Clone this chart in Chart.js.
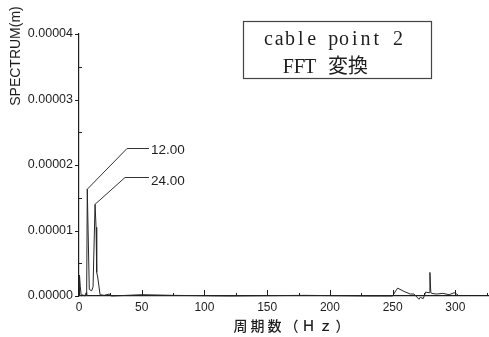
<!DOCTYPE html>
<html>
<head>
<meta charset="utf-8">
<script src="https://cdn.jsdelivr.net/npm/chart.js@4"></script>
<style>
  html, body { margin: 0; padding: 0; background: #fff; }
  #wrap { width: 489px; height: 337px; position: relative; }
</style>
</head>
<body>
<div id="wrap"><canvas id="c" width="489" height="337"></canvas></div>
<script>
// Frequency axis (Hz) and FFT amplitude (m) of cable point 2
const freqHz = [
  0, 0.4, 1.0, 1.8, 3.0, 4.5, 5.8, 6.1, 6.6, 8.2, 10.1, 11.2, 12.8, 13.6, 14.1,
  14.9, 16.8, 20, 24, 26, 50, 75, 120, 180, 230, 250, 251.8, 254, 259, 264,
  267, 268.5, 271, 272, 274.4, 276.3, 279, 279.7, 280.4, 281, 285, 290, 295,
  299, 302
];
const spectrum = [
  0.05e-5, 0.32e-5, 0.15e-5, 0.0, 0.02e-5, 0.0, 0.05e-5, 0.0, 1.63e-5, 0.10e-5,
  0.08e-5, 0.14e-5, 1.40e-5, 1.05e-5, 0.36e-5, 0.29e-5, 0.02e-5, 0.01e-5,
  0.03e-5, 0.0, 0.02e-5, 0.01e-5, 0.0, 0.01e-5, 0.0, 0.0, 0.06e-5, 0.12e-5,
  0.07e-5, 0.03e-5, 0.03e-5, 0.0, -0.05e-5, -0.02e-5, -0.04e-5, 0.06e-5,
  0.05e-5, 0.36e-5, 0.06e-5, 0.04e-5, 0.03e-5, 0.04e-5, 0.02e-5, 0.05e-5, 0.02e-5
];

// Axis ranges and tick steps
const xRange = [0, 326];
const yRange = [0, 0.00004];
const xMajorStep = 50, xMinorStep = 25;
const yMajorStep = 0.00001, yMinorStep = 0.000005;

// Peak callouts: peak position and label text
const peakFreq = [6.6, 12.8];
const peakValue = [1.63e-5, 1.40e-5];
const peakLabels = ['12.00', '24.00'];

const titleLines = ['cable point 2', 'FFT 変換'];
const yTitle = 'SPECTRUM(m)';
const xTitle = '周期数（Ｈｚ）';

const INK = '#1e1e1e';

// Minor/major tick marks drawn on the axes
const tickMarks = {
  id: 'tickMarks',
  afterDraw(chart) {
    const { ctx, scales: { x, y }, chartArea: a } = chart;
    ctx.save();
    ctx.strokeStyle = INK;
    ctx.lineWidth = 1;
    ctx.beginPath();
    for (let v = xRange[0]; v <= xRange[1] + 1e-9; v += xMinorStep) {
      const px = Math.round(x.getPixelForValue(v)) + 0.5;
      const major = Math.abs(v / xMajorStep - Math.round(v / xMajorStep)) < 1e-6;
      ctx.moveTo(px, a.bottom);
      ctx.lineTo(px, a.bottom - (major ? 6 : 3));
    }
    for (let i = 0; i <= Math.round((yRange[1] - yRange[0]) / yMinorStep); i++) {
      const v = yRange[0] + i * yMinorStep;
      const py = Math.round(y.getPixelForValue(v)) + 0.5;
      if (i % 2 === 0) {
        ctx.moveTo(a.left, py);
        ctx.lineTo(a.left - 4, py);
      } else {
        ctx.moveTo(a.left, py);
        ctx.lineTo(a.left + 3, py);
      }
    }
    ctx.stroke();
    ctx.restore();
  }
};

// Leader lines from the two peaks to their labels
const peakCallouts = {
  id: 'peakCallouts',
  afterDatasetsDraw(chart, args, opts) {
    const { ctx, scales: { x, y } } = chart;
    ctx.save();
    ctx.strokeStyle = '#333';
    ctx.lineWidth = 1;
    ctx.fillStyle = INK;
    ctx.font = '13.5px "Liberation Sans", Arial, sans-serif';
    ctx.textBaseline = 'middle';
    peakFreq.forEach((f, i) => {
      const px = x.getPixelForValue(f);
      const py = y.getPixelForValue(peakValue[i]);
      const g = opts.geom[i];
      ctx.beginPath();
      ctx.moveTo(px, py);
      ctx.lineTo(g.elbowX, g.lineY);
      ctx.lineTo(g.endX, g.lineY);
      ctx.stroke();
      ctx.fillText(peakLabels[i], g.endX + 2, g.textY);
    });
    ctx.restore();
  }
};

// Writes text on a fixed character pitch (half-width cells)
function drawPitched(ctx, text, x0, baseline, pitch) {
  ctx.textAlign = 'center';
  [...text].forEach((ch, i) => {
    if (ch !== ' ') ctx.fillText(ch, x0 + pitch * (i + 0.5), baseline);
  });
  ctx.textAlign = 'left';
}

// Title box, axis titles
const decorations = {
  id: 'decorations',
  afterDraw(chart) {
    const { ctx } = chart;
    ctx.save();
    // boxed title
    ctx.strokeStyle = '#444';
    ctx.lineWidth = 1.2;
    ctx.strokeRect(243.5, 21.5, 188, 57);
    ctx.fillStyle = INK;
    ctx.textBaseline = 'alphabetic';
    ctx.font = '20px "Liberation Serif", "DejaVu Serif", serif';
    drawPitched(ctx, titleLines[0], 263, 45, 10.8);
    const [lat, cjk] = titleLines[1].split(' ');
    ctx.save();
    ctx.translate(0, 73);
    ctx.scale(1, 1.1);
    drawPitched(ctx, lat, 283, 0, 10.8);
    ctx.restore();
    ctx.font = '20px "Noto Sans CJK JP", sans-serif';
    ctx.fillText(cjk, 328, 73);

    // y-axis title, rotated
    ctx.save();
    ctx.translate(16, 56);
    ctx.rotate(-Math.PI / 2);
    ctx.font = '14px "Liberation Sans", Arial, sans-serif';
    ctx.textAlign = 'center';
    ctx.textBaseline = 'middle';
    ctx.fillText(yTitle, 0, 0);
    ctx.restore();

    // x-axis title
    ctx.font = '500 14px "Noto Sans CJK JP", sans-serif';
    ctx.letterSpacing = '3px';
    ctx.textAlign = 'center';
    ctx.textBaseline = 'middle';
    ctx.fillText(xTitle, 293, 326);
    ctx.restore();
  }
};

new Chart(document.getElementById('c'), {
  type: 'line',
  data: {
    datasets: [{
      data: freqHz.map((f, i) => ({ x: f, y: spectrum[i] })),
      borderColor: '#262626',
      borderWidth: 1,
      pointRadius: 0,
      tension: 0,
      fill: false,
      clip: false
    }]
  },
  options: {
    responsive: false,
    animation: false,
    events: [],
    layout: { padding: { top: 34, right: 1, left: 0, bottom: 0 } },
    plugins: {
      legend: { display: false },
      tooltip: { enabled: false },
      peakCallouts: {
        geom: [
          { elbowX: 127, lineY: 148.5, endX: 149, textY: 150 },
          { elbowX: 125, lineY: 177.5, endX: 149, textY: 181 }
        ]
      }
    },
    scales: {
      x: {
        type: 'linear',
        min: xRange[0],
        max: xRange[1],
        grid: { display: false, drawTicks: false },
        border: { display: true, color: INK, width: 1.2 },
        ticks: {
          stepSize: xMajorStep,
          includeBounds: false,
          padding: 4,
          color: INK,
          font: { family: '"Liberation Sans", Arial, sans-serif', size: 12 },
          maxRotation: 0,
          callback: v => String(v)
        },
        afterFit(s) { s.height = 41; }
      },
      y: {
        type: 'linear',
        min: yRange[0],
        max: yRange[1],
        grid: { display: false, drawTicks: false },
        border: { display: true, color: INK, width: 1.2 },
        ticks: {
          stepSize: yMajorStep,
          padding: 6,
          color: INK,
          font: { family: '"Liberation Sans", Arial, sans-serif', size: 12.5 },
          callback: v => Number(v).toFixed(5)
        },
        afterFit(s) { s.width = 79; }
      }
    }
  },
  plugins: [tickMarks, peakCallouts, decorations]
});
</script>
</body>
</html>
